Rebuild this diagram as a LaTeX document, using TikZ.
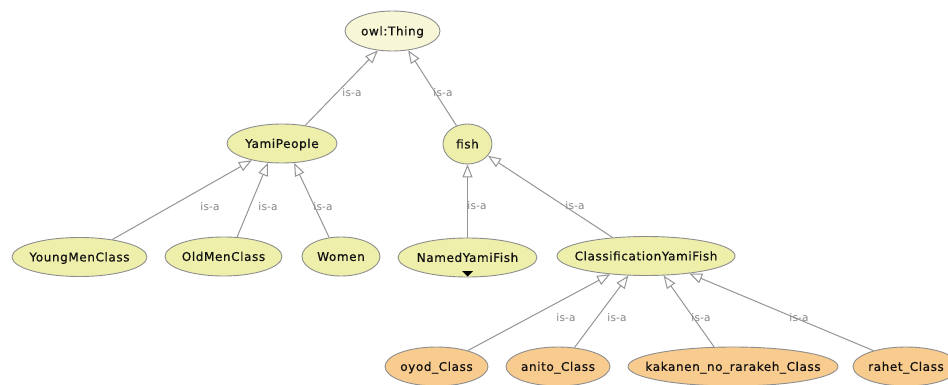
\documentclass[tikz,border=0pt]{standalone}
\usepackage{fontspec}
\usetikzlibrary{shapes.geometric,arrows.meta}
\newfontfamily\nodefont[LetterSpace=5,FakeBold=0.6]{DejaVu Sans}
\newfontfamily\lblfontfam[LetterSpace=2]{DejaVu Sans}
\definecolor{yel}{HTML}{EFEFAC}
\definecolor{thingcol}{HTML}{F7F7D8}
\definecolor{org}{HTML}{F8CB8E}
\definecolor{bord}{HTML}{8E8E8E}
\definecolor{edgecol}{HTML}{959595}
\definecolor{lblcol}{HTML}{858585}
\definecolor{txtcol}{HTML}{111111}
\newcommand{\ctext}[1]{\smash{\makebox[0pt]{\raisebox{-4.4pt}{#1}}}}
\tikzset{
  cls/.style={ellipse, draw=bord, line width=0.9pt, fill=yel, inner sep=0pt,
    minimum height=39pt, text=txtcol, font=\nodefont\fontsize{12}{14}\selectfont},
  inst/.style={cls, fill=org},
  isa/.style={draw=edgecol, line width=1pt,
    -{Triangle[open, length=13pt, width=10pt, fill=white]}},
  lbl/.style={text=lblcol, inner sep=0pt, font=\lblfontfam\fontsize{10.5}{12}\selectfont}
}
\begin{document}
\begin{tikzpicture}[x=1pt, y=-1pt]
\useasboundingbox (0,0) rectangle (948,385);
\clip (0,0) rectangle (948,385);
\fill[white] (0,0) rectangle (948,385);

\node[cls, fill=thingcol, minimum width=95pt, minimum height=40pt] (thing) at (392.5,31) {\ctext{owl:Thing}};
\node[cls, minimum width=110pt] (ympl) at (282,143.5) {\ctext{YamiPeople}};
\node[cls, minimum width=49pt, minimum height=40pt] (fish) at (467.5,144) {\ctext{fish}};
\node[cls, minimum width=135pt] (ymc) at (79.5,257) {\ctext{YoungMenClass}};
\node[cls, minimum width=117pt] (omc) at (223.5,256.5) {\ctext{OldMenClass}};
\node[cls, minimum width=78pt] (women) at (341,256.5) {\ctext{Women}};
\node[cls, minimum width=139pt] (nyf) at (467.5,257.5) {\ctext{NamedYamiFish}};
\node[cls, minimum width=178pt] (cyf) at (646,256) {\ctext{ClassificationYamiFish}};
\node[inst, minimum width=103pt] (oyod) at (436.5,366.5) {\ctext{oyod\_Class}};
\node[inst, minimum width=104pt] (anito) at (558,366.5) {\ctext{anito\_Class}};
\node[inst, minimum width=210pt] (kaka) at (733,366.5) {\ctext{kakanen\_no\_rarakeh\_Class}};
\node[inst, minimum width=106pt] (rahet) at (906,366.5) {\ctext{rahet\_Class}};

\fill[black] ([shift={(-5.5,13.5)}]nyf.center) -- ([shift={(5.5,13.5)}]nyf.center)
  -- ([shift={(0,19)}]nyf.center) -- cycle;

\draw[isa] (ympl.38) -- (thing.233) node[lbl] at (352,93) {is-a};
\draw[isa] (fish.121) -- (thing.309) node[lbl] at (443,93) {is-a};
\draw[isa] (ymc.28) -- (ympl.209) node[lbl] at (210,207) {is-a};
\draw[isa] (omc.55) -- (ympl.234) node[lbl] at (268,207) {is-a};
\draw[isa] (women.122) -- (ympl.302) node[lbl] at (323,207) {is-a};
\draw[isa] (nyf.north) -- (fish.south) node[lbl] at (477,206) {is-a};
\draw[isa] (cyf.151) -- (fish.330) node[lbl] at (575,206) {is-a};
\draw[isa] (oyod.27) -- (cyf.207) node[lbl] at (566,318) {is-a};
\draw[isa] (anito.49) -- (cyf.228) node[lbl] at (617,318) {is-a};
\draw[isa] (kaka.134) -- (cyf.312) node[lbl] at (701,318) {is-a};
\draw[isa] (rahet.154) -- (cyf.338) node[lbl] at (799,318) {is-a};
\end{tikzpicture}
\end{document}
